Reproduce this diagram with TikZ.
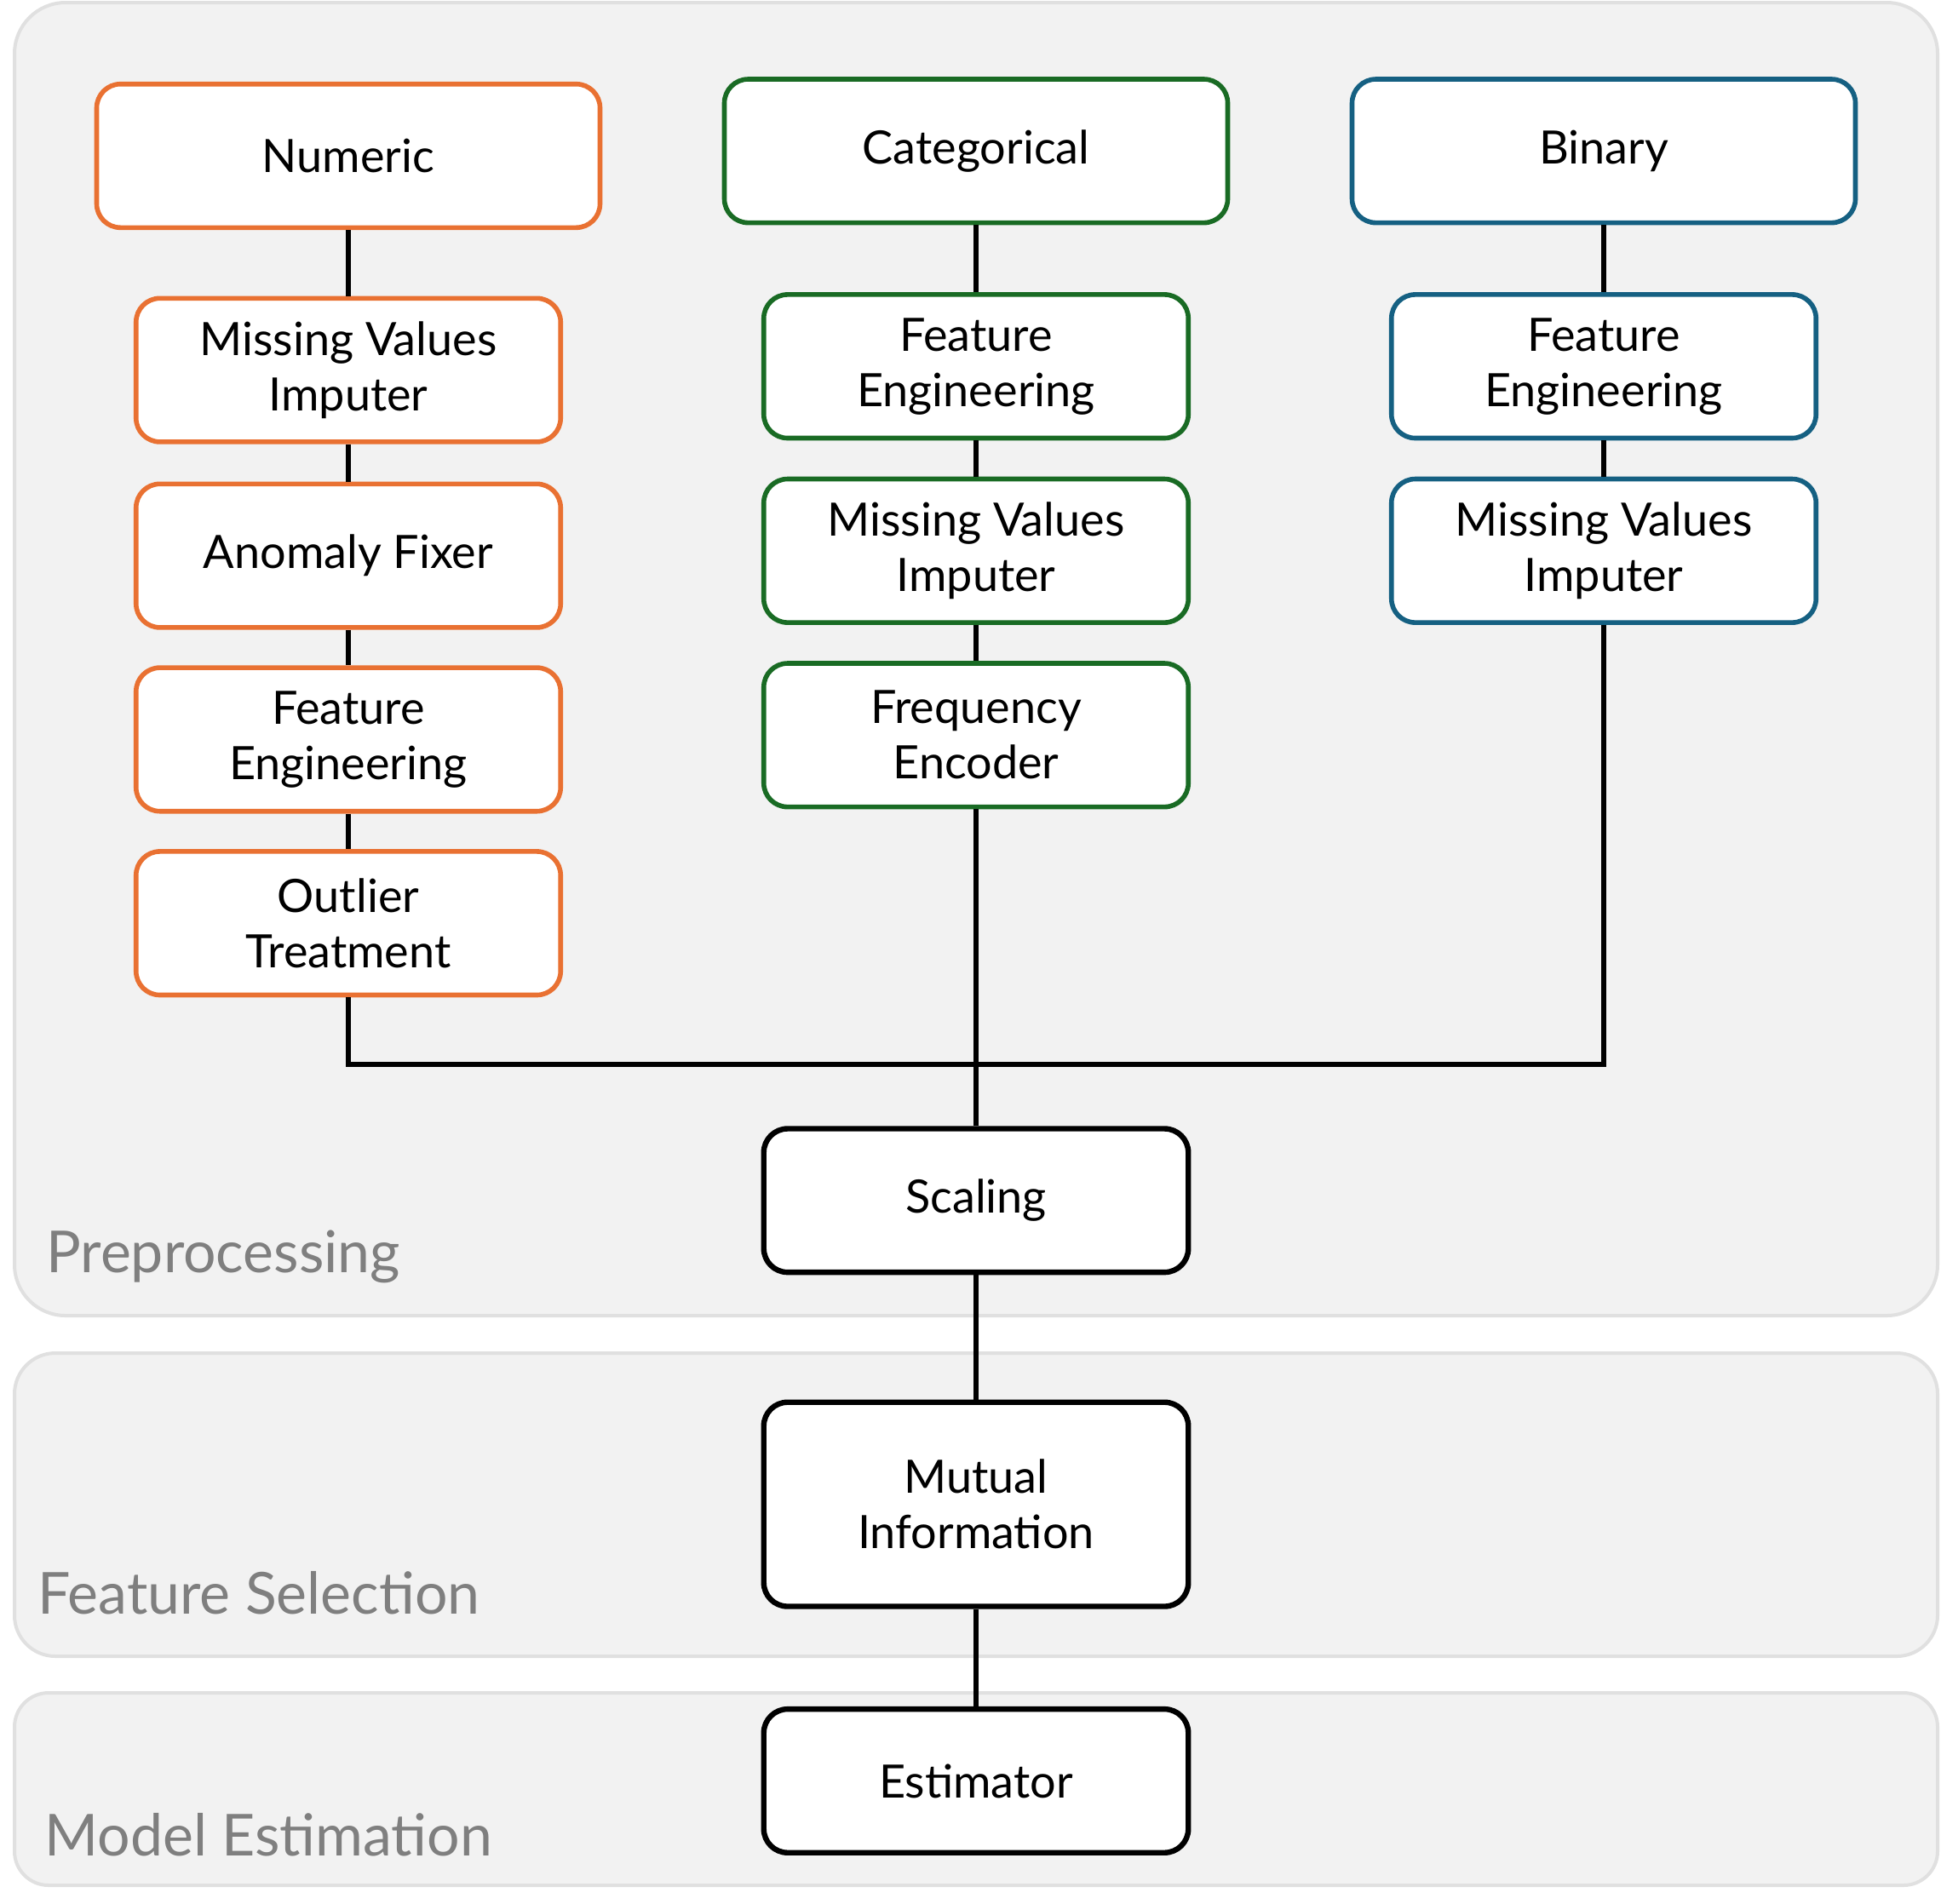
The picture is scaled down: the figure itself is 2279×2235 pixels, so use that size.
\documentclass[tikz,border=0pt]{standalone}
\usepackage{fontspec}
\setmainfont{Lato}
\definecolor{numorange}{HTML}{E97132}
\definecolor{catgreen}{HTML}{196B24}
\definecolor{binblue}{HTML}{156082}
\definecolor{panelfill}{HTML}{F2F2F2}
\definecolor{panelline}{HTML}{E0E0E0}
\definecolor{paneltext}{HTML}{7F7F7F}
\begin{document}
\begin{tikzpicture}[x=0.5pt,y=-0.5pt,
  panel/.style={draw=panelline,fill=panelfill,line width=2pt},
  paneltitle/.style={anchor=base west,inner sep=0pt,text=paneltext,font=\fontsize{34}{40}\selectfont},
  box/.style={draw,fill=white,rounded corners=14pt,line width=2.8pt,
    minimum width=249.25pt,minimum height=84.3pt,align=center,inner sep=0pt,
    font=\fontsize{27}{32.5}\selectfont},
  headbox/.style={box,minimum width=295.5pt},
  numbox/.style={box,draw=numorange},
  catbox/.style={box,draw=catgreen},
  binbox/.style={box,draw=binblue},
  blackbox/.style={box,draw=black,line width=3.2pt},
  link/.style={draw=black,line width=3pt},
  bus/.style={draw=black,line width=2.6pt}]
\useasboundingbox (0,0) rectangle (2279,2235);

% stage panels
\draw[panel,rounded corners=30pt] (17,3) rectangle (2275,1545);
\draw[panel,rounded corners=24pt] (17,1589) rectangle (2275,1945);
\draw[panel,rounded corners=20pt] (17,1988) rectangle (2275,2214);
\node[paneltitle] (tpre) at (54,1494) {Preprocessing};
\node[paneltitle] (tsel) at (44,1895) {Feature Selection};
\node[paneltitle] (test) at (52,2179) {Model Estimation};

% column heads
\node[headbox,draw=numorange] (num) at (409,183) {Numeric};
\node[headbox,draw=catgreen] (cat) at (1146,177.3) {Categorical};
\node[headbox,draw=binblue] (bin) at (1883,177.3) {Binary};

% numeric branch
\node[numbox] (nmvi) at (409,434.6) {Missing Values\\Imputer};
\node[numbox] (nano) at (409,652.6) {Anomaly Fixer};
\node[numbox] (nfe)  at (409,868.4) {Feature\\Engineering};
\node[numbox] (nout) at (409,1084.2) {Outlier\\Treatment};

% categorical branch
\node[catbox] (cfe)  at (1146,430.2) {Feature\\Engineering};
\node[catbox] (cmvi) at (1146,646.8) {Missing Values\\Imputer};
\node[catbox] (cfrq) at (1146,863.3) {Frequency\\Encoder};

% binary branch
\node[binbox] (bfe)  at (1883,430.2) {Feature\\Engineering};
\node[binbox] (bmvi) at (1883,646.8) {Missing Values\\Imputer};

% shared steps
\node[blackbox] (scal) at (1146,1409.8) {Scaling};
\node[blackbox,minimum height=119.9pt] (mi) at (1146,1766.6) {Mutual\\Information};
\node[blackbox] (estm) at (1146,2091.4) {Estimator};

\coordinate (hub) at (1146,1250);

% connectors
\path[link] (num) -- (nmvi);
\path[link] (nmvi) -- (nano);
\path[link] (nano) -- (nfe);
\path[link] (nfe) -- (nout);
\path[link] (cat) -- (cfe);
\path[link] (cfe) -- (cmvi);
\path[link] (cmvi) -- (cfrq);
\path[link] (bin) -- (bfe);
\path[link] (bfe) -- (bmvi);
\path[bus] (nout.south) |- (hub);
\path[bus] (bmvi.south) |- (hub);
\path[link] (cfrq) -- (scal);
\path[link] (scal) -- (mi);
\path[link] (mi) -- (estm);
\end{tikzpicture}
\end{document}
